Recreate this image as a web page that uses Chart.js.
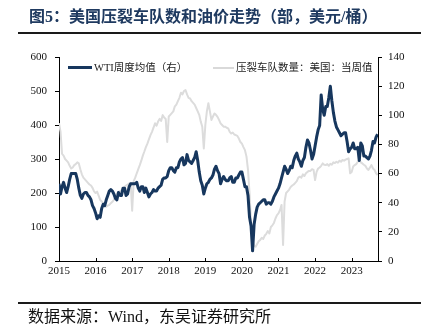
<!DOCTYPE html>
<html>
<head>
<meta charset="utf-8">
<script src="https://cdn.jsdelivr.net/npm/chart.js@4.4.1/dist/chart.umd.min.js"></script>
<style>
  html, body { margin: 0; padding: 0; background: #fff; }
  #wrap { position: relative; width: 426px; height: 331px; overflow: hidden; }
  canvas { position: absolute; left: 0; top: 0; }
  .serif { font-family: 'Liberation Serif', 'Noto Sans CJK SC', serif; }
  #title { position: absolute; left: 29px; top: 7px; font-size: 16px; font-weight: bold; color: #1F3A60; white-space: nowrap; line-height: 20px; }
  #rule1 { position: absolute; left: 18px; top: 32px; width: 403px; height: 2px; background: #1a1a1a; }
  #rule2 { position: absolute; left: 18px; top: 302px; width: 403px; height: 2px; background: #1a1a1a; }
  #source { position: absolute; left: 28px; top: 307px; font-size: 16px; color: #111; white-space: nowrap; line-height: 20px; }
  .lg-line { position: absolute; }
  .lg-text { position: absolute; font-size: 10.5px; color: #222; white-space: nowrap; line-height: 12px; }
</style>
</head>
<body>
<div id="wrap">
  <canvas id="c" width="426" height="331"></canvas>
  <div id="title" class="serif">图5：美国压裂车队数和油价走势（部，美元/桶）</div>
  <div id="rule1"></div>
  <div class="lg-line" id="lg1" style="left:68px; top:66px; width:24px; height:3px; background:#17375E;"></div>
  <div class="lg-text serif" id="lt1" style="left:94px; top:62px;"></div>
  <div class="lg-line" id="lg2" style="left:213px; top:67px; width:21px; height:2px; background:#D9D9D9;"></div>
  <div class="lg-text serif" id="lt2" style="left:236px; top:62px;"></div>
  <div id="rule2"></div>
  <div id="source" class="serif">数据来源：Wind，东吴证券研究所</div>
</div>
<script>
// Semi-monthly observations starting 2015-01 (first half of January 2015)
const startYear = 2015;
const periodsPerYear = 24;

const seriesNames = ['WTI周度均值（右）', '压裂车队数量：美国：当周值'];
const yearTicks = [2015, 2016, 2017, 2018, 2019, 2020, 2021, 2022, 2023];

// WTI weekly average price, USD/bbl (right axis)
const wti = [
  53,46,51,54,50,47,51,56,60,60,60,60,56,50,45,43,46,47,47,45,44,42,38,36,
  33,29,31,30,36,39,38,42,45,48,49,48,46,43,42,47,45,45,50,50,45,46,51,53,
  53,53,53,54,50,48,51,51,47,50,47,44,46,47,49,48,48,50,51,52,56,57,57,58,
  62,64,64,62,61,64,64,68,70,71,66,67,73,69,68,67,69,71,75,69,61,55,52,46,
  50,53,54,56,57,59,63,65,62,60,53,56,58,56,55,55,57,58,54,54,57,57,59,61,
  61,56,51,51,45,30,24,7,25,32,37,39,40,41,42,42,39,40,40,39,41,44,46,48,
  50,53,57,61,65,63,60,62,65,64,69,72,74,70,68,65,69,71,78,83,81,76,70,73,
  79,85,90,93,114,104,100,106,106,112,120,110,102,96,92,90,88,86,87,88,88,82,75,77,
  78,81,77,77,78,69,81,79,72,72,71,70,72,76,82,81,85,87
];

// US frac spread count (left axis)
const frac = [
  405,380,315,310,300,295,290,280,272,275,282,285,290,287,270,255,245,240,235,230,225,222,215,205,
  200,204,192,180,175,170,165,160,163,165,170,174,180,188,196,204,205,208,212,218,222,225,228,230,
  148,235,245,258,270,282,295,310,322,335,345,358,370,380,392,405,398,410,418,412,429,422,418,350,
  425,430,435,440,455,460,470,480,495,490,500,503,490,480,478,470,465,460,450,440,430,410,395,331,
  400,440,464,440,415,425,434,430,424,415,405,400,395,395,392,390,380,375,378,372,370,368,360,350,
  345,335,326,307,268,200,110,60,45,42,50,58,62,68,65,75,80,88,81,100,105,112,125,135,
  140,150,165,47,175,200,205,210,218,222,225,230,235,245,248,245,255,250,258,262,265,265,270,268,
  238,262,272,275,280,287,283,282,285,280,286,283,290,288,292,289,295,292,297,295,298,300,302,258,
  262,278,282,285,292,297,290,287,283,280,272,268,275,282,272,268,258,253
];

document.getElementById('lt1').textContent = seriesNames[0];
document.getElementById('lt2').textContent = seriesNames[1];

const timeOf = i => startYear + i / periodsPerYear;
const wtiPts = wti.map((v, i) => ({ x: timeOf(i), y: v }));
const fracPts = frac.map((v, i) => ({ x: timeOf(i), y: v }));

const FONT = "'Liberation Serif', 'Noto Sans CJK SC', serif";

const innerXTicks = {
  id: 'innerXTicks',
  afterDraw(chart) {
    const sx = chart.scales.x;
    const ctx = chart.ctx;
    ctx.save();
    ctx.strokeStyle = '#000';
    ctx.lineWidth = 1;
    sx.ticks.forEach(t => {
      const px = Math.round(sx.getPixelForValue(t.value)) + 0.5;
      ctx.beginPath();
      ctx.moveTo(px, sx.top);
      ctx.lineTo(px, sx.top - 3);
      ctx.stroke();
    });
    ctx.restore();
  }
};

new Chart(document.getElementById('c'), {
  type: 'line',
  data: {
    datasets: [
      {
        label: seriesNames[0],
        data: wtiPts,
        yAxisID: 'y1',
        borderColor: '#17375E',
        borderWidth: 3,
        pointRadius: 0,
        tension: 0,
        borderJoinStyle: 'round'
      },
      {
        label: seriesNames[1],
        data: fracPts,
        yAxisID: 'y',
        borderColor: '#DCDCDC',
        borderWidth: 2,
        pointRadius: 0,
        tension: 0,
        borderJoinStyle: 'round'
      }
    ]
  },
  options: {
    responsive: false,
    animation: false,
    devicePixelRatio: 1,
    layout: { padding: { top: 57, left: 0, right: 0, bottom: 0 } },
    plugins: { legend: { display: false }, tooltip: { enabled: false }, title: { display: false } },
    scales: {
      x: {
        type: 'linear',
        min: 2015,
        max: 2023.72,
        afterFit: s => { s.height = 70; },
        grid: { display: false, drawTicks: false },
        border: { display: true, color: '#000', width: 1 },
        ticks: {
          stepSize: 1,
          includeBounds: false,
          autoSkip: false,
          maxRotation: 0,
          padding: 4,
          color: '#111',
          font: { family: FONT, size: 11 },
          callback: v => (yearTicks.includes(v) ? String(v) : '')
        }
      },
      y: {
        position: 'left',
        min: 0,
        max: 600,
        afterFit: s => { s.width = 59; },
        grid: { drawOnChartArea: false, drawTicks: true, tickLength: 4, color: '#000' },
        border: { display: true, color: '#000', width: 1 },
        ticks: { stepSize: 100, padding: 8, color: '#111', font: { family: FONT, size: 11 } }
      },
      y1: {
        position: 'right',
        min: 0,
        max: 140,
        afterFit: s => { s.width = 48; },
        grid: { drawOnChartArea: false, drawTicks: true, tickLength: 4, color: '#000' },
        border: { display: true, color: '#000', width: 1 },
        ticks: { stepSize: 20, padding: 6, color: '#111', font: { family: FONT, size: 11 } }
      }
    }
  },
  plugins: [innerXTicks]
});
</script>
</body>
</html>
